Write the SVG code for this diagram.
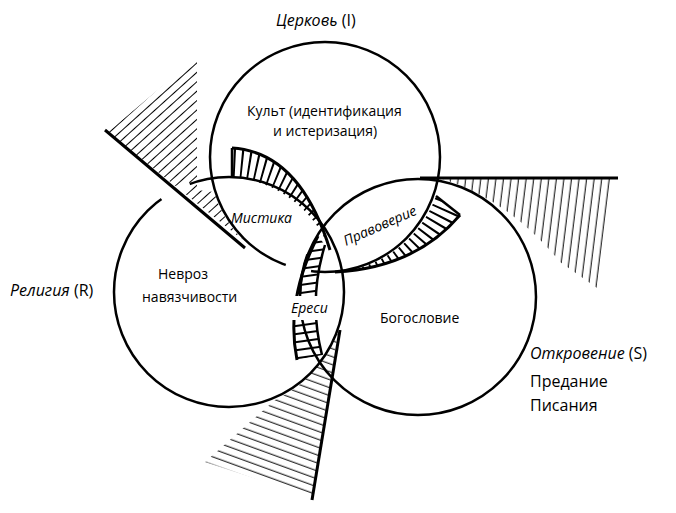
<svg xmlns="http://www.w3.org/2000/svg" width="676" height="513" viewBox="0 0 676 513">
<style>
.c{fill:none;stroke:#000;stroke-width:2.5}
.b{fill:none;stroke:#000;stroke-width:3}
.w{fill:none;stroke:#fff;stroke-width:7}
.t{font-family:"Open Sans","Liberation Sans",sans-serif;font-size:14px;fill:#000}
.l{font-family:"Open Sans","Liberation Sans",sans-serif;font-size:16px;fill:#000}
.i{font-style:italic}
</style>
<defs>
<pattern id="hL" width="7" height="7" patternUnits="userSpaceOnUse" patternTransform="rotate(-42)"><line x1="0" y1="3.5" x2="7" y2="3.5" stroke="#000" stroke-width="1"/></pattern>
<pattern id="hR" width="7.5" height="8" patternUnits="userSpaceOnUse" patternTransform="rotate(7)"><line x1="4" y1="0" x2="4" y2="8" stroke="#000" stroke-width="1"/></pattern>
<pattern id="hB" width="7.5" height="7.5" patternUnits="userSpaceOnUse" patternTransform="rotate(20)"><line x1="0" y1="4" x2="8" y2="4" stroke="#000" stroke-width="1"/></pattern>
<pattern id="hE" width="8" height="8" patternUnits="userSpaceOnUse" patternTransform="rotate(-8)"><line x1="0" y1="4" x2="8" y2="4" stroke="#000" stroke-width="2"/></pattern>
<clipPath id="cM"><path d="M232,148 Q300,152 330,250 A115,115 0 0 0 232,177 Z"/></clipPath>
<clipPath id="cP"><path d="M436,196 L460,215 Q415,268 335,272 A115,115 0 0 0 436,196 Z"/></clipPath>
</defs>

<g id="wedges">
<path d="M108,132 L197,57 L197,190 L214,192 A115,115 0 0 0 243,240 Z" fill="url(#hL)"/>
<path d="M440,178 L612,178 L597,288 L560,262 Q510,200 440,178 Z" fill="url(#hR)"/>
<path d="M338,333 L312,497 L205,462 L275,400 A115,115 0 0 0 325,355 Z" fill="url(#hB)"/>
</g>

<g id="circles">
<circle id="circle-I" class="c" cx="325" cy="157" r="115"/>
<circle id="circle-R" class="c" cx="229" cy="292" r="115"/>
<circle id="circle-S" class="c" cx="418" cy="297" r="118"/>
</g>

<g id="connectors">
<path class="w" d="M161.4,199 A115,115 0 0 1 189.7,183.9"/>
<path class="w" d="M311,271.2 A115,115 0 0 1 285.7,265.1"/>
<path class="c" d="M300.1,293 A118,118 0 0 1 307.4,254.5"/>
<line class="b" x1="105" y1="130" x2="245" y2="248"/>
<line class="b" x1="420" y1="178" x2="618" y2="178"/>
<line class="b" x1="340" y1="330" x2="312" y2="500"/>
</g>

<g id="crescent-mystic">
<circle cx="229" cy="292" r="140" fill="none" stroke="#000" stroke-width="70" stroke-dasharray="2.2 6" clip-path="url(#cM)"/>
<path class="b" d="M232,148 Q300,152 330,250"/>
<line class="c" x1="232" y1="148" x2="232" y2="177"/>
</g>
<g id="crescent-orthodoxy">
<circle cx="325" cy="157" r="140" fill="none" stroke="#000" stroke-width="70" stroke-dasharray="2.2 6" clip-path="url(#cP)"/>
<path class="b" d="M460,215 Q415,268 335,272"/>
<line class="c" x1="436" y1="196" x2="460" y2="215"/>
</g>
<g id="crescent-heresy">
<path d="M318,236 Q285,300 297,360 L322,355 Q308,300 325,245 Z" fill="url(#hE)"/>
<path class="b" d="M318,236 Q285,300 297,360"/>
<path class="c" d="M322,355 Q308,300 325,245"/>
<rect x="288" y="296" width="46" height="24" fill="#fff"/>
</g>

<g id="labels">
<text class="l" x="276" y="26"><tspan class="i">Церковь</tspan> (I)</text>
<text class="t" x="247" y="116">Культ (идентификация</text>
<text class="t" x="273" y="136">и истеризация)</text>
<text class="t i" x="231" y="223">Мистика</text>
<text class="t i" transform="translate(346,246) rotate(-24)">Правоверие</text>
<text class="t i" x="291" y="313">Ереси</text>
<text class="t" x="158" y="279">Невроз</text>
<text class="t" x="142" y="302">навязчивости</text>
<text class="t" x="380" y="323">Богословие</text>
<text class="l" x="10" y="296"><tspan class="i">Религия</tspan> (R)</text>
<text class="l" x="530" y="359"><tspan class="i">Откровение</tspan> (S)</text>
<text class="l" x="530" y="387">Предание</text>
<text class="l" x="530" y="411">Писания</text>
</g>
</svg>
